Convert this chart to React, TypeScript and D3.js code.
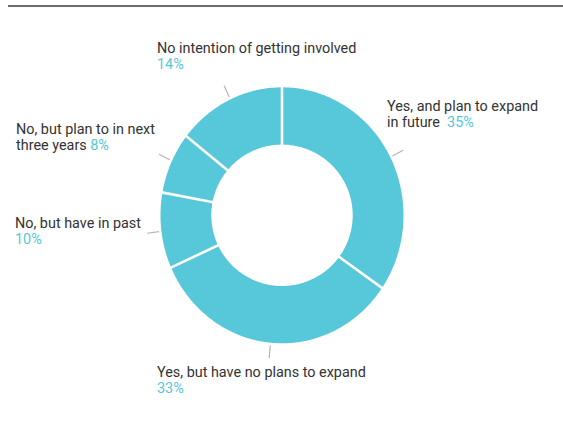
import React from "react";
import * as d3 from "d3";

const categories = [
  "Yes, and plan to expand|in future",
  "Yes, but have no plans to expand",
  "No, but have in past",
  "No, but plan to in next|three years",
  "No intention of getting involved",
];
const values = [35, 33, 10, 8, 14];
const percentLabels = ["35%", "33%", "10%", "8%", "14%"];
// whether the percent sits on its own line (true) or follows the last text line
const percentOwnLine = [false, true, true, false, true];
const percentSep = ["\u00a0 ", "", "", " ", ""];

// layout (label anchor positions: x, first baseline)
const labelPos = [
  [387, 111],
  [157, 377],
  [15, 228],
  [16, 134],
  [157, 53],
];

const W = 563;
const H = 438;
const cx = 282;
const cy = 215.3;
const rx = 121.5;
const ry = 128;
const rInner = 70.7;
const fill = "#57C7DA";
const pctColor = "#57C7DA";
const textColor = "#333333";
const font = "Roboto, sans-serif";
const fs = 14.4;
const lh = 16;

function outerR(a: number) {
  const s = Math.sin(a) / rx;
  const c = Math.cos(a) / ry;
  return 1 / Math.sqrt(s * s + c * c);
}

export default function App() {
  const pie = d3.pie<number>().sort(null).value((d) => d);
  const arcs = pie(values);
  const radial = d3.lineRadial<[number, number]>().angle((d) => d[0]).radius((d) => d[1]);

  const slicePath = (a0: number, a1: number) => {
    const n = Math.max(2, Math.ceil(((a1 - a0) * 180) / Math.PI));
    const pts: [number, number][] = [];
    for (let i = 0; i <= n; i++) {
      const a = a0 + ((a1 - a0) * i) / n;
      pts.push([a, outerR(a)]);
    }
    for (let i = n; i >= 0; i--) {
      const a = a0 + ((a1 - a0) * i) / n;
      pts.push([a, rInner]);
    }
    return radial(pts) + "Z";
  };

  const sy = ry / rx;
  const pt = (a: number, r: number) => [r * Math.sin(a), -r * Math.cos(a) * sy];

  return (
    <svg
      width={W}
      height={H}
      style={{ position: "absolute", left: 0, top: 0, background: "#fff" }}
      fontFamily={font}
    >
      <line x1={8} x2={W} y1={6} y2={6} stroke="#3d3d3d" strokeWidth={1.5} />
      <g transform={`translate(${cx},${cy})`}>
        {arcs.map((d, i) => (
          <path key={i} d={slicePath(d.startAngle, d.endAngle)} fill={fill} />
        ))}
        {arcs.map((d, i) => {
          const a = d.startAngle;
          const r1 = outerR(a) + 2;
          return (
            <line
              key={"s" + i}
              x1={(rInner - 2) * Math.sin(a)}
              y1={-(rInner - 2) * Math.cos(a)}
              x2={r1 * Math.sin(a)}
              y2={-r1 * Math.cos(a)}
              stroke="#fff"
              strokeWidth={2.6}
            />
          );
        })}
        {arcs.map((d, i) => {
          const a = (d.startAngle + d.endAngle) / 2;
          const [x1, y1] = pt(a, 124);
          const [x2, y2] = pt(a, 136);
          return (
            <line key={"t" + i} x1={x1} y1={y1} x2={x2} y2={y2} stroke="#b5b5b5" strokeWidth={1.2} />
          );
        })}
      </g>
      {categories.map((c, i) => {
        const lines = c.split("|");
        const [x, y] = labelPos[i];
        return (
          <text key={"l" + i} x={x} y={y} fontSize={fs} fill={textColor}>
            {lines.map((ln, j) => (
              <tspan key={j} x={x} y={y + j * lh}>
                {ln}
                {!percentOwnLine[i] && j === lines.length - 1 ? (
                  <tspan fill={pctColor}>{percentSep[i] + percentLabels[i]}</tspan>
                ) : null}
              </tspan>
            ))}
            {percentOwnLine[i] ? (
              <tspan x={x} y={y + lines.length * lh} fill={pctColor}>
                {percentLabels[i]}
              </tspan>
            ) : null}
          </text>
        );
      })}
    </svg>
  );
}
